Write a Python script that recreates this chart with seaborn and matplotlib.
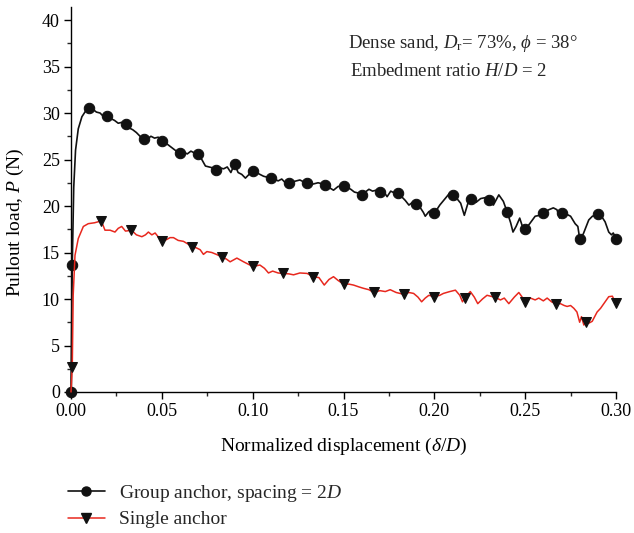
import numpy as np
import pandas as pd
import matplotlib
matplotlib.use("Agg")
import matplotlib.pyplot as plt
from matplotlib.lines import Line2D
from matplotlib.ticker import MultipleLocator
import seaborn as sns

# ---------------- data ----------------
group_x = [0.0000, 0.0007, 0.0015, 0.0025, 0.0040, 0.0060, 0.0080, 0.0100, 0.0120, 0.0140,
           0.0160, 0.0180, 0.0200, 0.0220, 0.0240, 0.0260, 0.0280, 0.0300, 0.0320, 0.0340,
           0.0360, 0.0380, 0.0400, 0.0420, 0.0440, 0.0460, 0.0480, 0.0500, 0.0520, 0.0540,
           0.0560, 0.0580, 0.0600, 0.0620, 0.0640, 0.0660, 0.0680, 0.0700, 0.0720, 0.0740,
           0.0760, 0.0780, 0.0800, 0.0820, 0.0840, 0.0860, 0.0880, 0.0900, 0.0920, 0.0940,
           0.0960, 0.0980, 0.1000, 0.1020, 0.1040, 0.1060, 0.1080, 0.1100, 0.1120, 0.1140,
           0.1160, 0.1180, 0.1200, 0.1220, 0.1240, 0.1260, 0.1280, 0.1300, 0.1320, 0.1340,
           0.1360, 0.1380, 0.1400, 0.1420, 0.1445, 0.1470, 0.1500, 0.1520, 0.1540, 0.1560,
           0.1580, 0.1600, 0.1620, 0.1640, 0.1660, 0.1680, 0.1700, 0.1720, 0.1740, 0.1760,
           0.1780, 0.1800, 0.1820, 0.1840, 0.1860, 0.1880, 0.1900, 0.1920, 0.1940, 0.1950,
           0.1970, 0.1985, 0.2000, 0.2030, 0.2060, 0.2085, 0.2100, 0.2120, 0.2145, 0.2165,
           0.2185, 0.2200, 0.2230, 0.2255, 0.2280, 0.2300, 0.2325, 0.2355, 0.2380, 0.2400,
           0.2420, 0.2433, 0.2450, 0.2470, 0.2485, 0.2500, 0.2525, 0.2555, 0.2580, 0.2600,
           0.2630, 0.2655, 0.2675, 0.2690, 0.2700, 0.2720, 0.2750, 0.2775, 0.2790, 0.2800,
           0.2820, 0.2850, 0.2870, 0.2900, 0.2920, 0.2940, 0.2960, 0.2975, 0.2985, 0.3000]
group_y = [0.0, 13.7, 22.0, 26.0, 28.3, 29.6, 30.2, 30.5, 30.4, 30.1,
           30.0, 29.6, 29.7, 29.4, 29.2, 28.9, 29.0, 28.8, 28.4, 28.2,
           27.9, 27.5, 27.2, 27.2, 27.5, 27.3, 27.4, 27.0, 26.8, 26.5,
           26.2, 25.9, 25.7, 25.8, 25.6, 25.9, 25.7, 25.6, 25.0, 24.3,
           24.2, 24.1, 23.9, 24.1, 24.0, 24.2, 23.6, 24.5, 23.6, 23.4,
           23.0, 23.4, 23.8, 23.6, 23.4, 23.2, 23.1, 23.0, 22.9, 22.7,
           22.9, 22.5, 22.5, 22.6, 22.7, 22.8, 22.6, 22.5, 22.3, 22.4,
           22.5, 22.4, 22.3, 22.0, 21.7, 22.1, 22.2, 22.0, 21.8, 21.5,
           21.4, 21.2, 21.5, 21.8, 21.6, 21.7, 21.5, 21.6, 21.0, 21.6,
           21.4, 21.4, 21.0, 20.6, 20.1, 20.4, 20.2, 19.9, 19.3, 18.9,
           19.4, 19.5, 19.2, 20.1, 20.8, 21.4, 21.2, 20.9, 20.3, 19.0,
           20.3, 20.75, 20.4, 20.8, 20.9, 20.6, 20.1, 21.2, 20.5, 19.4,
           18.2, 17.2, 17.8, 18.7, 17.8, 17.5, 18.1, 18.9, 19.0, 19.2,
           19.6, 19.8, 19.6, 18.7, 19.3, 19.2, 18.9, 18.1, 17.8, 16.5,
           17.0, 18.5, 18.9, 19.1, 18.9, 18.3, 17.2, 16.9, 17.1, 16.5]
group_marker_x = [0.0, 0.0007] + [round(0.01 * k, 4) for k in range(1, 31)]

single_x = [0.0000, 0.0007, 0.0012, 0.0022, 0.0040, 0.0068, 0.0095, 0.0130, 0.0167, 0.0187,
            0.0215, 0.0242, 0.0260, 0.0279, 0.0300, 0.0333, 0.0360, 0.0390, 0.0410, 0.0426,
            0.0445, 0.0463, 0.0500, 0.0527, 0.0545, 0.0564, 0.0590, 0.0619, 0.0645, 0.0667,
            0.0690, 0.0711, 0.0729, 0.0748, 0.0775, 0.0800, 0.0833, 0.0855, 0.0876, 0.0913,
            0.0950, 0.1000, 0.1040, 0.1065, 0.1087, 0.1110, 0.1140, 0.1167, 0.1200, 0.1225,
            0.1260, 0.1300, 0.1333, 0.1365, 0.1394, 0.1420, 0.1445, 0.1470, 0.1500, 0.1530,
            0.1555, 0.1585, 0.1610, 0.1640, 0.1667, 0.1700, 0.1730, 0.1757, 0.1790, 0.1833,
            0.1860, 0.1886, 0.1910, 0.1930, 0.1950, 0.1970, 0.2000, 0.2030, 0.2050, 0.2085,
            0.2116, 0.2140, 0.2155, 0.2167, 0.2198, 0.2220, 0.2239, 0.2265, 0.2290, 0.2310,
            0.2333, 0.2364, 0.2385, 0.2410, 0.2440, 0.2465, 0.2480, 0.2500, 0.2529, 0.2555,
            0.2575, 0.2600, 0.2621, 0.2645, 0.2667, 0.2694, 0.2715, 0.2731, 0.2750, 0.2768,
            0.2785, 0.2800, 0.2810, 0.2823, 0.2833, 0.2850, 0.2869, 0.2896, 0.2915, 0.2933,
            0.2960, 0.2980, 0.2990, 0.3000]
single_y = [0.0, 2.7, 10.4, 14.7, 16.5, 17.8, 18.1, 18.2, 18.4, 17.4,
            17.4, 17.2, 17.6, 17.8, 17.3, 17.4, 16.9, 16.7, 16.9, 17.2,
            16.9, 17.1, 16.2, 16.4, 16.6, 16.6, 16.3, 16.2, 15.9, 15.6,
            15.5, 15.3, 14.8, 15.1, 15.0, 14.8, 14.5, 14.3, 14.0, 14.4,
            14.0, 13.5, 13.65, 13.3, 12.8, 13.0, 12.8, 12.75, 12.7, 12.6,
            12.8, 12.75, 12.4, 12.3, 11.5, 12.1, 12.4, 12.0, 11.6, 11.6,
            11.5, 11.3, 11.15, 11.0, 10.7, 10.9, 10.8, 11.0, 10.7, 10.5,
            10.7, 10.6, 10.2, 9.7, 10.1, 10.4, 10.25, 10.4, 10.6, 10.8,
            10.95, 10.4, 9.7, 10.1, 10.8, 10.2, 9.5, 10.0, 10.4, 10.3,
            10.2, 9.9, 10.1, 9.5, 10.2, 10.7, 10.3, 9.7, 10.1, 9.9,
            10.1, 9.8, 10.1, 9.7, 9.5, 9.5, 9.3, 9.2, 9.3, 9.0,
            8.6, 7.5, 8.1, 7.2, 7.55, 7.4, 7.6, 8.6, 9.0, 9.5,
            10.25, 10.3, 9.9, 9.6]
single_marker_x = [0.0007] + [round(0.3 * k / 18, 4) for k in range(1, 19)]

labels = ["Group anchor, spacing = 2$D$", "Single anchor"]

# ---------------- styling ----------------
sns.set_theme(style="ticks")
plt.rcParams["font.family"] = ["Liberation Serif", "DejaVu Serif"]
plt.rcParams["mathtext.fontset"] = "custom"
plt.rcParams["mathtext.rm"] = "Liberation Serif"
plt.rcParams["mathtext.it"] = "Liberation Serif:italic"
plt.rcParams["mathtext.bf"] = "Liberation Serif:bold"


def marker_idx(xs, mxs):
    xs = np.asarray(xs)
    return [int(np.argmin(np.abs(xs - m))) for m in mxs]


fig = plt.figure(figsize=(6.34, 5.33), dpi=100)
ax = fig.add_axes([71 / 634, 1 - 392 / 533, (616 - 71) / 634, (392 - 7) / 533])

df_g = pd.DataFrame({"x": group_x, "y": group_y})
df_s = pd.DataFrame({"x": single_x, "y": single_y})

black = "#111111"
red = "#e8281e"

sns.lineplot(data=df_g, x="x", y="y", ax=ax, color=black, linewidth=1.2,
             marker="o", markersize=7.5, markerfacecolor=black, markeredgecolor=black,
             markevery=marker_idx(group_x, group_marker_x), clip_on=False, zorder=3,
             estimator=None, sort=False)
sns.lineplot(data=df_s, x="x", y="y", ax=ax, color=red, linewidth=1.1,
             marker="v", markersize=7.5, markerfacecolor=black, markeredgecolor=black,
             markevery=marker_idx(single_x, single_marker_x), clip_on=False, zorder=4,
             estimator=None, sort=False)

ax.set_xlim(0, 0.30)
ax.set_ylim(0, 41.4)
ax.xaxis.set_major_locator(MultipleLocator(0.05))
ax.xaxis.set_minor_locator(MultipleLocator(0.025))
ax.yaxis.set_major_locator(MultipleLocator(5))
ax.yaxis.set_minor_locator(MultipleLocator(2.5))
ax.xaxis.set_major_formatter(plt.FuncFormatter(lambda v, p: f"{v:.2f}"))
ax.tick_params(which="major", direction="out", length=5, width=1, labelsize=13,
               colors="black", pad=3)
ax.tick_params(which="minor", direction="out", length=3, width=1)
sns.despine(ax=ax)
for s in ("left", "bottom"):
    ax.spines[s].set_color("black")
    ax.spines[s].set_linewidth(1.0)

ax.set_xlabel(r"Normalized displacement ($\delta/D$)", fontsize=14, color="black")
ax.set_ylabel(r"Pullout load, $P$ (N)", fontsize=14, color="black")
ax.xaxis.set_label_coords(0.5, -0.115)
ax.yaxis.set_label_coords(-0.083, 0.44)

fig.text(348 / 634, 1 - 43 / 533, r"Dense sand, $D_{\mathrm{r}}$= 73%, $\phi$ = 38°",
         fontsize=13.5, va="center", ha="left")
fig.text(350 / 634, 1 - 72 / 533, r"Embedment ratio $H/D$ = 2",
         fontsize=13.5, va="center", ha="left")

handles = [
    Line2D([0], [0], color=black, linewidth=1.2, marker="o", markersize=6.5,
           markerfacecolor=black, markeredgecolor=black),
    Line2D([0], [0], color=red, linewidth=1.1, marker="v", markersize=6.5,
           markerfacecolor=black, markeredgecolor=black),
]
fig.legend(handles, labels, loc="upper left", bbox_to_anchor=(68 / 634, 1 - 483 / 533),
           frameon=False, fontsize=14, handlelength=1.9, handletextpad=0.7,
           labelspacing=0.35, borderaxespad=0, borderpad=0)

fig.savefig("out.png", dpi=100)
